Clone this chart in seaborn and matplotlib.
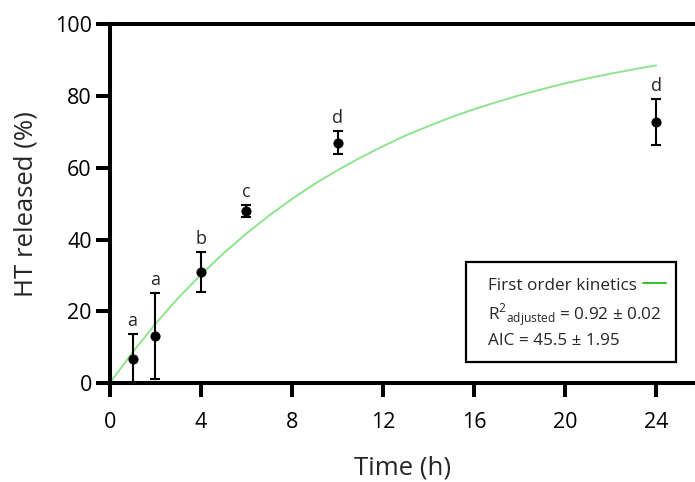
import numpy as np
import pandas as pd
import seaborn as sns
import matplotlib.pyplot as plt
from matplotlib.lines import Line2D
from matplotlib.patches import Rectangle

# dados medidos (media +- desvio)
time_h = [1, 2, 4, 6, 10, 24]
released = [6.7, 13.2, 31.0, 47.9, 67.0, 72.7]
released_sd = [7.0, 11.9, 5.5, 1.6, 3.2, 6.4]
letters = ['a', 'a', 'b', 'c', 'd', 'd']

# curva de cinetica de primeira ordem (de hora em hora)
fit_time = list(range(0, 25))
fit_released = [0, 8.6, 16.5, 23.7, 30.2, 36.2, 41.7, 46.7, 51.3, 55.5, 59.3,
                62.8, 66.0, 69.0, 71.6, 74.1, 76.3, 78.3, 80.2, 81.9, 83.5,
                84.9, 86.2, 87.4, 88.5]

x_ticks = [0, 4, 8, 12, 16, 20, 24]
y_ticks = [0, 20, 40, 60, 80, 100]

legend_lines = ['First order kinetics',
                r'R$^{\mathregular{2}}$$_{\mathregular{adjusted}}$ = 0.92 ± 0.02',
                'AIC = 45.5 ± 1.95']

sns.set_theme(style='ticks')
plt.rcParams['font.family'] = ['Open Sans', 'DejaVu Sans']
plt.rcParams['mathtext.fontset'] = 'custom'
plt.rcParams['mathtext.rm'] = 'Open Sans'

fit_df = pd.DataFrame({'time': fit_time, 'released': fit_released})
data_df = pd.DataFrame({'time': time_h, 'released': released, 'sd': released_sd})

fig = plt.figure(figsize=(6.95, 4.82), dpi=100)
ax = fig.add_axes([0.158, 0.205, 0.842, 0.745])

sns.lineplot(data=fit_df, x='time', y='released', ax=ax, color='#8fe38f', lw=1.4)
ax.errorbar(data_df['time'], data_df['released'], yerr=data_df['sd'], fmt='none',
            ecolor='black', elinewidth=1.5, capsize=3.5, capthick=1.5, zorder=3)
sns.scatterplot(data=data_df, x='time', y='released', ax=ax, color='black', s=45,
                edgecolor='black', zorder=4)

for t, m, s, lab in zip(time_h, released, released_sd, letters):
    ax.annotate(lab, (t, m + s), xytext=(0, 3), textcoords='offset points',
                ha='center', va='bottom', fontsize=13)

ax.set_xlim(0, 25.7)
ax.set_ylim(0, 100)
ax.set_xticks(x_ticks)
ax.set_yticks(y_ticks)
ax.set_xlabel('Time (h)', fontsize=18.5, labelpad=16)
ax.set_ylabel('HT released (%)', fontsize=18.5, labelpad=12)

for side in ['left', 'bottom', 'top']:
    ax.spines[side].set_linewidth(2.9)
    ax.spines[side].set_color('black')
ax.spines['right'].set_visible(False)
ax.tick_params(axis='both', direction='out', length=10, width=2.9, labelsize=15.5,
               colors='black')
ax.tick_params(axis='x', pad=11)
ax.tick_params(axis='y', pad=3)

# caixa da legenda
ax.add_patch(Rectangle((0.6085, 0.0585), 0.359, 0.2785, transform=ax.transAxes,
                       fill=False, edgecolor='black', lw=1.6, zorder=5))
for txt, yy in zip(legend_lines, [0.259, 0.178, 0.106]):
    ax.text(0.646, yy, txt, transform=ax.transAxes, fontsize=12.3, va='baseline',
            ha='left', zorder=6)
ax.add_line(Line2D([0.911, 0.950], [0.279, 0.279], transform=ax.transAxes,
                   color='#22bb22', lw=1.3, zorder=6))

fig.savefig('out.png', dpi=100)
